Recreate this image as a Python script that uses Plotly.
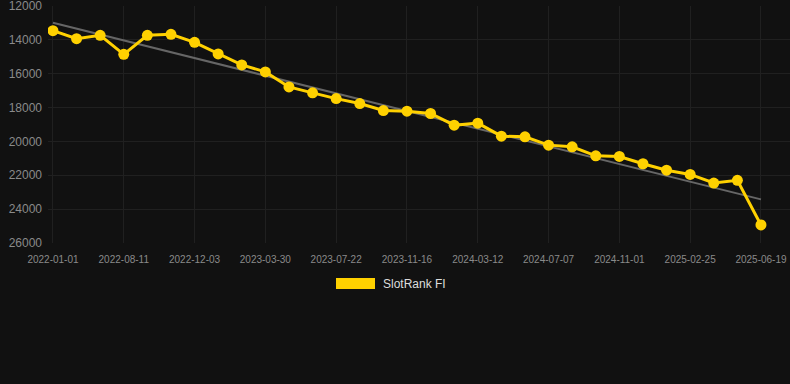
import plotly.graph_objects as go

dates = [
    "2022-01-01", "2022-03-15", "2022-05-28", "2022-08-11", "2022-09-18", "2022-10-26",
    "2022-12-03", "2023-01-10", "2023-02-19", "2023-03-30", "2023-05-08", "2023-06-14",
    "2023-07-22", "2023-08-30", "2023-10-08", "2023-11-16", "2023-12-25", "2024-02-02",
    "2024-03-12", "2024-04-20", "2024-05-29", "2024-07-07", "2024-08-15", "2024-09-23",
    "2024-11-01", "2024-12-10", "2025-01-18", "2025-02-25", "2025-04-05", "2025-05-12",
    "2025-06-19",
]
rank = [
    13455, 13930, 13730, 14850, 13730, 13670, 14140, 14830, 15480, 15890, 16780, 17130,
    17470, 17760, 18175, 18215, 18350, 19040, 18920, 19690, 19730, 20220, 20320, 20850,
    20890, 21320, 21700, 21950, 22460, 22300, 24940,
]
tick_labels = dates[::3]
y_ticks = [12000, 14000, 16000, 18000, 20000, 22000, 24000, 26000]
trend_x = [dates[0], dates[-1]]
trend_y = [12983, 23425]
series_name = "SlotRank FI"

BG = "#111111"
GRID = "#202020"
YELLOW = "#FFD100"
FONT = "Liberation Sans, Arial, sans-serif"

fig = go.Figure()
fig.add_trace(go.Scatter(
    x=trend_x, y=trend_y, mode="lines",
    line=dict(color="#666666", width=2),
    hoverinfo="skip", showlegend=False,
))
fig.add_trace(go.Scatter(
    x=dates, y=rank, mode="lines+markers", name=series_name,
    line=dict(color=YELLOW, width=3),
    marker=dict(color=YELLOW, size=11),
    showlegend=False,
))

fig.update_layout(
    width=790, height=384,
    paper_bgcolor=BG, plot_bgcolor=BG,
    margin=dict(l=48, r=0, t=6, b=141),
    font=dict(family=FONT, color="#8a8a8a"),
    xaxis=dict(
        type="category",
        categoryorder="array", categoryarray=dates,
        tickmode="array", tickvals=tick_labels, ticktext=tick_labels,
        range=[-0.21, 31.23],
        showgrid=True, gridcolor=GRID, gridwidth=1,
        zeroline=False, showline=False,
        ticks="", ticklabelstandoff=9,
        tickfont=dict(size=10, color="#8a8a8a"),
        tickangle=0,
        ticklabeloverflow="allow",
    ),
    yaxis=dict(
        range=[26005, 11995],
        tickmode="array", tickvals=y_ticks,
        showgrid=True, gridcolor=GRID, gridwidth=1,
        zeroline=False, showline=False,
        ticks="", ticklabelstandoff=5,
        tickfont=dict(size=12, color="#8a8a8a"),
        tickformat="d",
        ticklabeloverflow="allow",
    ),
    shapes=[dict(
        type="rect", xref="paper", yref="paper",
        x0=(336 - 48) / 742, x1=(375 - 48) / 742,
        y0=(384 - 141 - 289) / 237, y1=(384 - 141 - 278) / 237,
        fillcolor=YELLOW, line=dict(width=0),
    )],
    annotations=[dict(
        text=series_name, xref="paper", yref="paper",
        x=(381 - 48) / 742, y=(384 - 141 - 283.5) / 237,
        xanchor="left", yanchor="middle", showarrow=False,
        font=dict(size=12, color="#dddddd", family=FONT),
    )],
)

fig.write_html(
    "out.html",
    config={"displayModeBar": False},
    post_script="document.body.style.margin='0';document.body.style.background='#111111';",
)
